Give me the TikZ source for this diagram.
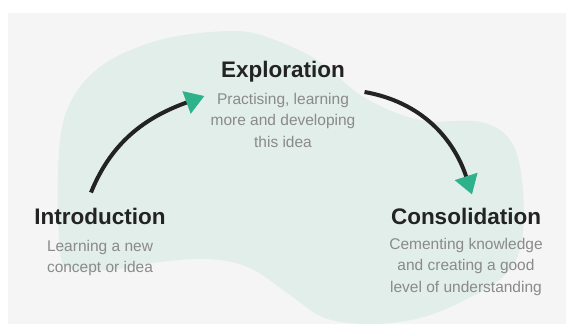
\documentclass[tikz,border=0pt]{standalone}
\usepackage{fontspec}
\setmainfont{Liberation Sans}
\usetikzlibrary{arrows.meta,positioning}
\definecolor{cyclepaper}{HTML}{F5F5F5}
\definecolor{cycleblob}{HTML}{E2EEEA}
\definecolor{cycleink}{HTML}{232323}
\definecolor{cyclegrey}{HTML}{8A8A8A}
\definecolor{cyclegreen}{HTML}{2EB28C}
\tikzset{
  phase/.style={font=\bfseries\fontsize{22.5}{27}\selectfont, text=cycleink,
    inner sep=0pt, anchor=base},
  blurb/.style={font=\fontsize{15.5}{21.5}\selectfont, text=cyclegrey,
    align=center, inner sep=0pt},
  flow/.style={-{Triangle[length=19pt, width=23pt, color=cyclegreen]},
    line width=4pt, draw=cycleink},
}

\begin{document}
\begin{tikzpicture}[x=1pt, y=1pt, node distance=15pt]
\useasboundingbox (0,0) rectangle (566,324);
\fill[cyclepaper] (8,0) rectangle (566,311);
\fill[cycleblob] plot[smooth cycle, tension=0.6] coordinates {
  (60,74) (58,154) (67,214) (100,257) (160,284) (233,293) (275,284)
  (320,262) (365,226) (420,204) (480,202) (510,184) (522,144) (522,84)
  (505,49) (465,24) (420,6) (370,0) (325,6) (290,29) (250,56)
  (209,65) (160,62) (110,54) (70,56)};

\node[phase] (intro) at (100,99) {Introduction};
\node[blurb, below=of intro.base] (introtxt) {Learning a new\\concept or idea};
\node[phase] (explore) at (283,246) {Exploration};
\node[blurb, below=of explore.base] (exploretxt) {Practising, learning\\more and developing\\this idea};
\node[phase] (consol) at (466,99) {Consolidation};
\node[blurb, below=13pt of consol.base] (consoltxt) {Cementing knowledge\\and creating a good\\level of understanding};

\draw[flow] ([shift={(-9,16)}]intro.north) to[out=68, in=200] ([shift={(-6,-3)}]exploretxt.north west);
\draw[flow] ([shift={(9,1)}]exploretxt.north east) to[out=-10, in=108] ([shift={(6,14)}]consol.north);
\end{tikzpicture}
\end{document}
